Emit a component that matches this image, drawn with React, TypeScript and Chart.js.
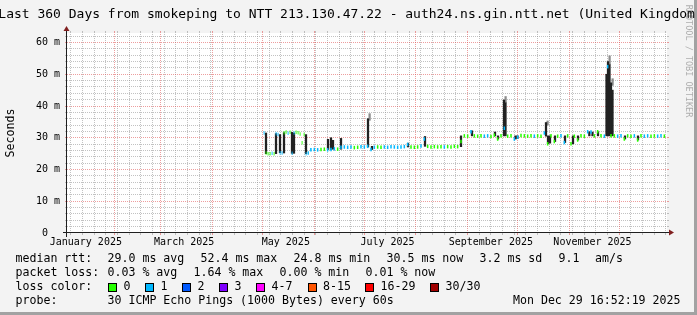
import React, { useEffect, useRef } from 'react';
import { Chart, registerables } from 'chart.js';

Chart.register(...registerables);

const FONT = '"DejaVu Sans Mono", "Liberation Mono", monospace';

const title = 'Last 360 Days from smokeping to NTT 213.130.47.22 - auth24.ns.gin.ntt.net (United Kingdom)';
const yAxisTitle = 'Seconds';
const watermark = 'RRDTOOL / TOBI OETIKER';

// x axis values are "day of year 2025" (0 = Jan 1 00:00)
const rangeStart = 2.7; // Jan 3 16:52
const rangeEnd = 362.7; // Dec 29 16:52
const xLabelDays = [14, 73, 134, 195, 257, 318];
const xLabels = ['January 2025', 'March 2025', 'May 2025', 'July 2025', 'September 2025', 'November 2025'];
const monthStartDays = [31, 59, 90, 120, 151, 181, 212, 243, 273, 304, 334];
const firstMondayDay = 5;
const yTicks = [0, 10, 20, 30, 40, 50, 60];
const yMax = 63;

// median rtt (ms) and loss count per sample
const medianDays = [
  121.5, 122.7, 123.9, 125.1, 126.3, 127.5, 128.7, 129.9, 131.1, 132.3, 133.5, 134.7, 135.9, 137.1,
  138.3, 139.5, 140.7, 141.9, 143.1, 144.3, 145.5, 146.7, 147.9,
  150, 152, 154, 156, 158, 160, 162, 164, 166,
  168, 170, 172, 174, 176, 178, 180, 182, 184, 186, 188, 190, 192, 194, 196, 198, 200, 202,
  204, 206, 208, 210, 212, 214, 216, 218, 220, 222, 224, 226, 228, 230, 232, 234, 236, 238,
  240, 242, 244, 246, 248, 250, 252, 254, 256, 258, 260, 262, 264, 266, 268, 270, 272, 274,
  276, 278, 280, 282, 284, 286, 288, 290, 292, 294, 296, 298, 300, 302, 304, 306, 308, 310,
  312, 314, 316, 318, 320, 322, 324, 326, 328, 330, 332, 334, 336, 338, 340, 342, 344, 346,
  348, 350, 352, 354, 356, 358, 360, 362,
];
const medianRtt = [
  31.5, 25.2, 25.0, 25.0, 25.1, 25.0, 31.3, 31.0, 25.3, 25.2, 31.6, 31.8, 31.4, 31.7,
  25.1, 31.5, 31.7, 31.6, 31.2, 28.4, 31.0, 25.0, 25.2,
  26.2, 26.3, 26.2, 26.3, 26.4, 26.2, 26.3, 26.5, 26.4,
  27.0, 27.1, 27.0, 27.1, 26.9, 27.0, 27.2, 27.1, 27.3, 26.3, 27.0, 27.1, 27.0, 27.1, 27.0, 27.2, 27.1, 27.0,
  27.1, 27.2, 27.9, 27.1, 27.0, 27.1, 27.4, 29.6, 27.3, 27.1, 27.2, 27.1, 27.2, 27.1, 27.2, 27.1, 27.3, 27.2,
  28.8, 30.6, 30.5, 31.9, 30.6, 30.5, 30.6, 30.5, 30.6, 30.4, 30.8, 29.6, 30.6, 33.0, 30.5, 30.6, 29.6, 30.2,
  30.7, 30.6, 30.5, 30.6, 30.5, 30.6, 30.5, 31.5, 28.1, 30.6, 28.8, 30.5, 30.6, 28.5, 30.6, 28.1, 30.5, 29.3,
  30.6, 30.5, 31.9, 31.8, 30.6, 31.9, 30.6, 30.5, 52.4, 30.6, 30.6, 30.5, 30.6, 29.6, 30.6, 30.5, 30.6, 29.3,
  30.6, 30.5, 30.6, 30.5, 30.6, 30.5, 30.6, 30.5,
];
const medianLoss = [
  1, 0, 0, 0, 1, 0, 1, 1, 1, 1, 0, 0, 1, 0,
  1, 1, 0, 0, 0, 0, 0, 1, 1,
  1, 1, 1, 0, 0, 1, 1, 1, 0,
  1, 1, 1, 1, 0, 0, 1, 1, 1, 1, 1, 0, 0, 1, 1, 1, 1, 1,
  1, 1, 1, 0, 0, 0, 1, 1, 0, 0, 0, 0, 0, 1, 0, 0, 0, 0,
  0, 0, 0, 1, 0, 0, 0, 1, 1, 0, 0, 0, 0, 1, 0, 0, 1, 1,
  0, 0, 0, 0, 1, 0, 0, 1, 0, 0, 0, 0, 1, 1, 0, 0, 0, 0,
  0, 0, 1, 1, 0, 0, 0, 1, 1, 0, 0, 1, 1, 0, 0, 0, 1, 0,
  0, 1, 1, 0, 0, 1, 1, 0,
];

// dark smoke (spread of pings) per sample
const smokeDays = [
  122.1, 128.1, 130.5, 132.9, 137.7, 138.9, 146.1,
  159.3, 161.1, 162.3, 167.1,
  183.3, 185.7, 207.3, 217.5, 239.1,
  245.7, 259.5, 261.3, 264.9, 265.8, 271.8, 273.0,
  290.1, 291.3, 292.5, 295.5, 301.5, 306.3, 309.3,
  316.1, 318.0, 321.3, 326.4, 327.3, 328.2, 329.1, 330.0, 337.5, 345.3,
];
const smokeLow = [
  25.0, 25.0, 25.3, 25.2, 25.1, 25.1, 25.0,
  26.3, 26.3, 26.4, 26.4,
  27.1, 26.3, 27.1, 27.3, 27.2,
  30.6, 30.6, 29.6, 30.6, 30.6, 29.6, 29.8,
  30.5, 28.1, 28.3, 28.8, 28.5, 28.1, 29.3,
  30.6, 30.6, 30.6, 30.6, 30.6, 30.6, 30.6, 30.6, 29.6, 29.3,
];
const smokeHigh = [
  31.5, 31.3, 31.0, 31.6, 31.7, 31.5, 31.0,
  29.5, 30.0, 29.2, 29.8,
  36.0, 27.3, 28.3, 30.4, 30.6,
  32.2, 31.8, 30.6, 41.9, 41.0, 30.6, 30.6,
  34.8, 30.6, 30.6, 30.6, 30.6, 30.6, 30.6,
  31.9, 31.8, 31.9, 50.0, 54.0, 53.0, 47.3, 45.0, 30.6, 30.6,
];
// light smoke tips on the tall spikes
const tipDays = [183.3, 264.9, 290.1, 327.3, 329.1];
const tipLow = [35.5, 41.0, 34.0, 53.0, 46.5];
const tipHigh = [37.6, 43.0, 35.3, 55.8, 48.6];

const lossLabels = ['0', '1', '2', '3', '4-7', '8-15', '16-29', '30/30'];
const lossColors = ['#26ff00', '#00b8ff', '#0059ff', '#7e00ff', '#ff00ff', '#ff5500', '#ff0000', '#a00000'];

const rttStats = ['29.0 ms avg', '52.4 ms max', '24.8 ms min', '30.5 ms now', '3.2 ms sd', '9.1', 'am/s'];
const lossStats = ['0.03 % avg', '1.64 % max', '0.00 % min', '0.01 % now'];
const probeText = '30 ICMP Echo Pings (1000 Bytes) every 60s';
const dateText = 'Mon Dec 29 16:52:19 2025';

const rrdPlugin = {
  id: 'rrdLook',
  beforeDraw(chart: any) {
    const { ctx, chartArea: a, width, height } = chart;
    const xs = chart.scales.x;
    const ys = chart.scales.y;
    ctx.save();
    ctx.fillStyle = '#f3f3f3';
    ctx.fillRect(0, 0, width, height);
    ctx.fillStyle = '#a2a2a2';
    ctx.fillRect(width - 3, 0, 3, height);
    ctx.fillRect(0, height - 3, width, 3);
    ctx.fillStyle = '#ffffff';
    ctx.fillRect(a.left, a.top, a.right - a.left, a.bottom - a.top);

    const L = a.left, R = a.right, T = a.top, B = a.bottom;
    ctx.lineWidth = 1;
    const hLine = (v: number, color: string) => {
      const y = Math.floor(ys.getPixelForValue(v)) + 0.5;
      ctx.strokeStyle = color;
      ctx.setLineDash([]);
      ctx.beginPath();
      ctx.moveTo(L - 2, y); ctx.lineTo(L, y);
      ctx.moveTo(R, y); ctx.lineTo(R + 2, y);
      ctx.stroke();
      ctx.setLineDash([1, 1]);
      ctx.beginPath();
      ctx.moveTo(L, y); ctx.lineTo(R, y);
      ctx.stroke();
    };
    const vLine = (d: number, color: string) => {
      const x = Math.floor(xs.getPixelForValue(d)) + 0.5;
      ctx.strokeStyle = color;
      ctx.setLineDash([]);
      ctx.beginPath();
      ctx.moveTo(x, B); ctx.lineTo(x, B + 2);
      ctx.moveTo(x, T - 2); ctx.lineTo(x, T);
      ctx.stroke();
      ctx.setLineDash([1, 1]);
      ctx.beginPath();
      ctx.moveTo(x, B); ctx.lineTo(x, T);
      ctx.stroke();
    };
    const minor = 'rgba(143,143,143,0.55)';
    const major = 'rgba(222,79,79,0.55)';
    for (let v = 2; v < yMax; v += 2) if (v % 10 !== 0) hLine(v, minor);
    for (let d = firstMondayDay; d < rangeEnd; d += 7) {
      if (d > rangeStart && monthStartDays.indexOf(d) < 0) vLine(d, minor);
    }
    yTicks.forEach((v) => { if (v > 0) hLine(v, major); });
    monthStartDays.forEach((d) => vLine(d, major));
    ctx.restore();
  },
  afterDatasetsDraw(chart: any) {
    const { ctx, chartArea: a } = chart;
    const ax = a.left - 0.5;
    const ay = a.bottom - 0.5;
    ctx.save();
    ctx.setLineDash([]);
    ctx.strokeStyle = 'rgb(31,31,31)';
    ctx.lineWidth = 1;
    ctx.beginPath();
    ctx.moveTo(a.left - 4, ay); ctx.lineTo(a.right + 4, ay);
    ctx.moveTo(ax, a.bottom + 4); ctx.lineTo(ax, a.top - 4);
    ctx.stroke();
    ctx.fillStyle = 'rgb(128,31,31)';
    ctx.beginPath();
    ctx.moveTo(a.right + 2, ay - 3); ctx.lineTo(a.right + 2, ay + 3); ctx.lineTo(a.right + 7, ay);
    ctx.closePath(); ctx.fill();
    ctx.beginPath();
    ctx.moveTo(ax - 3, a.top - 2); ctx.lineTo(ax + 3, a.top - 2); ctx.lineTo(ax, a.top - 7);
    ctx.closePath(); ctx.fill();
    ctx.restore();
  },
  afterDraw(chart: any) {
    const { ctx } = chart;
    ctx.save();
    ctx.fillStyle = '#000';
    ctx.font = `13px ${FONT}`;
    ctx.textAlign = 'center';
    ctx.textBaseline = 'alphabetic';
    ctx.fillText(title, 350.5, 17.5);

    ctx.save();
    ctx.translate(10.5, 133);
    ctx.rotate(-Math.PI / 2);
    ctx.font = `11.6px ${FONT}`;
    ctx.textBaseline = 'middle';
    ctx.fillText(yAxisTitle, 0, 0);
    ctx.restore();

    ctx.save();
    ctx.translate(688, 61);
    ctx.rotate(Math.PI / 2);
    ctx.font = `8.5px ${FONT}`;
    ctx.fillStyle = 'rgba(0,0,0,0.3)';
    ctx.textAlign = 'center';
    ctx.textBaseline = 'middle';
    ctx.fillText(watermark, 0, 0);
    ctx.restore();

    ctx.font = `11.6px ${FONT}`;
    ctx.textBaseline = 'middle';
    ctx.textAlign = 'left';
    const r1 = 259, r2 = 273, r3 = 287, r4 = 301;
    ctx.fillText('median rtt:', 15.5, r1);
    const rttX = [107.5, 200.5, 293.5, 386.5, 479.5, 558.5, 595];
    rttStats.forEach((s, i) => ctx.fillText(s, rttX[i], r1));
    ctx.fillText('packet loss:', 15.5, r2);
    const lossX = [107.5, 193.5, 279.5, 365.5];
    lossStats.forEach((s, i) => ctx.fillText(s, lossX[i], r2));
    ctx.fillText('loss color:', 15.5, r3);
    const boxX = [108, 145, 182, 219, 256, 307.5, 365, 430];
    lossLabels.forEach((s, i) => {
      const bx = Math.round(boxX[i]);
      ctx.fillStyle = lossColors[i];
      ctx.fillRect(bx, 283, 8, 8);
      ctx.strokeStyle = '#000';
      ctx.lineWidth = 1;
      ctx.strokeRect(bx + 0.5, 283.5, 8, 8);
      ctx.fillStyle = '#000';
      ctx.fillText(s, boxX[i] + 15.5, r3);
    });
    ctx.fillText('probe:', 15.5, r4);
    ctx.fillText(probeText, 107.5, r4);
    ctx.textAlign = 'right';
    ctx.fillText(dateText, 680.5, r4);
    ctx.restore();
  },
};

export default function App() {
  const ref = useRef<HTMLCanvasElement>(null);
  useEffect(() => {
    document.body.style.margin = '0';
    const canvas = ref.current;
    if (!canvas) return;
    const tickFont = { family: FONT, size: 10 };
    const hiddenX = { type: 'linear', min: rangeStart, max: rangeEnd, offset: false, display: false };
    const chart = new Chart(canvas, {
      type: 'bar',
      data: {
        datasets: [
          {
            label: 'median',
            xAxisID: 'x',
            data: medianDays.map((d, i) => ({ x: d, y: [medianRtt[i] - 0.55, medianRtt[i] + 0.55] })) as any,
            backgroundColor: medianLoss.map((l) => lossColors[l]),
            barThickness: 'flex',
            categoryPercentage: 1.35,
            barPercentage: 1,
            borderWidth: 0,
            inflateAmount: 0,
          } as any,
          {
            label: 'smoke',
            xAxisID: 'x2',
            data: smokeDays.map((d, i) => ({ x: d, y: [smokeLow[i], smokeHigh[i]] })) as any,
            backgroundColor: '#222222',
            barThickness: 1.6,
            borderWidth: 0,
          } as any,
          {
            label: 'smoke tips',
            xAxisID: 'x3',
            data: tipDays.map((d, i) => ({ x: d, y: [tipLow[i], tipHigh[i]] })) as any,
            backgroundColor: '#8c8c8c',
            barThickness: 1.6,
            borderWidth: 0,
          } as any,
        ],
      },
      options: {
        responsive: false,
        maintainAspectRatio: false,
        animation: false,
        events: [],
        layout: { padding: { left: 0, top: 33, right: 30, bottom: 62 } },
        plugins: { legend: { display: false }, tooltip: { enabled: false }, title: { display: false } },
        scales: {
          x: {
            type: 'linear',
            min: rangeStart,
            max: rangeEnd,
            offset: false,
            grid: { display: false, drawTicks: false },
            border: { display: false },
            afterBuildTicks: (s: any) => { s.ticks = xLabelDays.map((v) => ({ value: v })); },
            afterFit: (s: any) => { s.height = 20; },
            ticks: {
              autoSkip: false,
              maxRotation: 0,
              padding: 3,
              color: '#000',
              font: tickFont,
              callback: (v: any) => {
                const i = xLabelDays.indexOf(Number(v));
                return i >= 0 ? xLabels[i] : '';
              },
            },
          },
          x2: hiddenX,
          x3: hiddenX,
          y: {
            type: 'linear',
            min: 0,
            max: yMax,
            grid: { display: false, drawTicks: false },
            border: { display: false },
            afterBuildTicks: (s: any) => { s.ticks = yTicks.map((v) => ({ value: v })); },
            afterFit: (s: any) => { s.width = 67; },
            ticks: {
              padding: 7,
              color: '#000',
              font: tickFont,
              callback: (v: any) => (Number(v) === 0 ? '0  ' : `${v} m`),
            },
          },
        } as any,
      },
      plugins: [rrdPlugin],
    });
    return () => chart.destroy();
  }, []);
  return <canvas ref={ref} width={697} height={315} style={{ display: 'block' }} />;
}
